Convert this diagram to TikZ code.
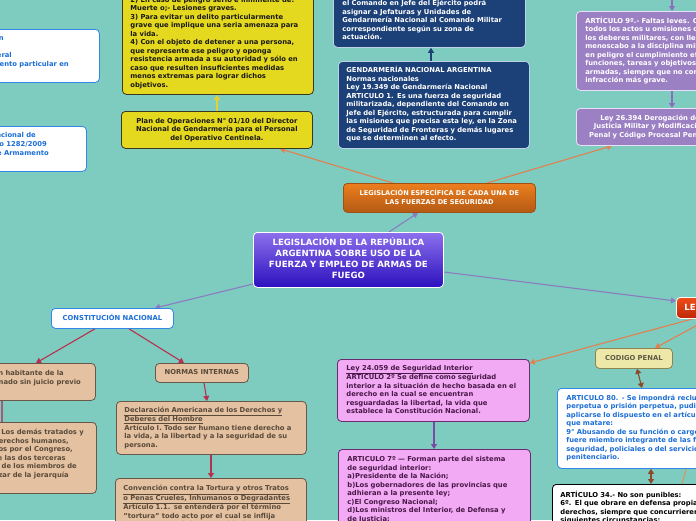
\documentclass[tikz,border=0pt]{standalone}
\usepackage{fontspec}
\setmainfont{DejaVu Sans}
\usetikzlibrary{arrows.meta}
\pgfdeclarelayer{back}
\pgfsetlayers{back,main}
\definecolor{bgc}{RGB}{126,204,192}
\definecolor{yfill}{RGB}{229,217,32}
\definecolor{ydraw}{RGB}{60,56,30}
\definecolor{ytext}{RGB}{25,25,20}
\definecolor{nfill}{RGB}{28,64,120}
\definecolor{nborder}{RGB}{190,210,230}
\definecolor{pfill}{RGB}{156,128,196}
\definecolor{pborder}{RGB}{232,224,244}
\definecolor{otop}{RGB}{236,126,30}
\definecolor{obot}{RGB}{180,90,20}
\definecolor{oborder}{RGB}{160,80,20}
\definecolor{ctop}{RGB}{140,112,236}
\definecolor{cbot}{RGB}{44,16,190}
\definecolor{wborder}{RGB}{50,135,230}
\definecolor{wtext}{RGB}{28,110,215}
\definecolor{tfill}{RGB}{227,193,161}
\definecolor{tborder}{RGB}{105,88,72}
\definecolor{ttext}{RGB}{90,74,58}
\definecolor{kfill}{RGB}{242,170,244}
\definecolor{kborder}{RGB}{106,42,112}
\definecolor{ktext}{RGB}{72,24,72}
\definecolor{gfill}{RGB}{238,232,168}
\definecolor{gborder}{RGB}{138,132,80}
\definecolor{gtext}{RGB}{94,90,68}
\definecolor{rtop}{RGB}{240,76,24}
\definecolor{rbot}{RGB}{190,40,8}
\definecolor{lor}{RGB}{226,128,80}
\definecolor{lpu}{RGB}{138,124,192}
\definecolor{lcr}{RGB}{184,48,78}
\definecolor{lma}{RGB}{165,90,120}
\definecolor{lye}{RGB}{232,208,48}
\definecolor{lnv}{RGB}{28,64,120}
\definecolor{lvi}{RGB}{138,112,188}
\definecolor{lpk}{RGB}{122,74,168}
\definecolor{lbr}{RGB}{139,74,42}
\definecolor{ltn}{RGB}{217,149,95}
\newcommand\TL[1]{\begin{tabular}{@{}l@{}}#1\end{tabular}}
\newcommand\TC[1]{\begin{tabular}{@{}c@{}}#1\end{tabular}}
\tikzset{
 boxbase/.style={rounded corners=4pt, line width=0.8pt, anchor=north west, inner xsep=8pt, inner ysep=3pt, align=left, font=\fontsize{6.8}{8.5}\selectfont\bfseries},
 ybox/.style={boxbase, draw=ydraw, fill=yfill, text=ytext},
 nbox/.style={boxbase, draw=nborder, fill=nfill, text=white},
 pbox/.style={boxbase, draw=pborder, fill=pfill, text=white},
 obox/.style={boxbase, draw=oborder, top color=otop, bottom color=obot, text=white, font=\fontsize{6.6}{9}\selectfont\bfseries},
 cbox/.style={boxbase, draw=white, top color=ctop, bottom color=cbot, text=white, font=\fontsize{8.6}{11}\selectfont\bfseries},
 wbox/.style={boxbase, draw=wborder, fill=white, text=wtext},
 tbox/.style={boxbase, draw=tborder, fill=tfill, text=ttext},
 kbox/.style={boxbase, draw=kborder, fill=kfill, text=ktext},
 gbox/.style={boxbase, draw=gborder, fill=gfill, text=gtext},
 rbox/.style={boxbase, draw=white, top color=rtop, bottom color=rbot, text=white, font=\fontsize{8.6}{11}\selectfont\bfseries},
 bbox/.style={boxbase, draw=black, fill=white, text=black},
 cutw/.style={anchor=base east, inner sep=0pt, font=\fontsize{6.8}{8.5}\selectfont\bfseries, text=wtext},
 cutt/.style={anchor=base east, inner sep=0pt, font=\fontsize{6.8}{8.5}\selectfont\bfseries, text=ttext},
 con/.style={line width=1.1pt},
 tip/.style={-{Triangle[length=5pt,width=6pt]}},
 dtip/.style={{Triangle[length=5pt,width=6pt]}-{Triangle[length=5pt,width=6pt]}},
}
\begin{document}
\begin{tikzpicture}[x=1pt,y=-1pt]
\path[use as bounding box] (0,0) rectangle (696,520);
\begin{pgfonlayer}{back}
\fill[bgc] (0,0) rectangle (696,520);
\end{pgfonlayer}

% ---- top area
\node[ybox, text width=175pt, minimum height=103pt] (ytop) at (122,-9) {\TL{2) En caso de peligro serio e inminente de:\\ Muerte o;- Lesiones graves.\\ 3) Para evitar un delito particularmente\\ grave que implique una seria amenaza para\\ la vida.\\ 4) Con el objeto de detener a una persona,\\ que represente ese peligro y oponga\\ resistencia armada a su autoridad y sólo en\\ caso que resulten insuficientes medidas\\ menos extremas para lograr dichos\\ objetivos.}};
\node[ybox, text width=175pt, minimum height=37pt, align=center] (plan) at (121,111) {\TC{Plan de Operaciones N° 01/10 del Director\\ Nacional de Gendarmería para el Personal\\ del Operativo Centinela.}};
\node[nbox, text width=174pt, inner xsep=9pt, minimum height=53pt] (navtop) at (333,-6) {\TL{el Comando en Jefe del Ejército podrá\\ asignar a Jefaturas y Unidades de\\ Gendarmería Nacional al Comando Militar\\ correspondiente según su zona de\\ actuación.}};
\node[nbox, text width=175pt, minimum height=87pt] (gend) at (338,61) {\TL{GENDARMERÍA NACIONAL ARGENTINA\\ Normas nacionales\\ Ley 19.349 de Gendarmería Nacional\\ ARTICULO 1. Es una fuerza de seguridad\\ militarizada, dependiente del Comando en\\ Jefe del Ejército, estructurada para cumplir\\ las misiones que precisa esta ley, en la Zona\\ de Seguridad de Fronteras y demás lugares\\ que se determinen al efecto.}};
\node[pbox, text width=240pt, inner xsep=9pt, minimum height=79pt] (art9) at (576,11) {\TL{ARTÍCULO 9º.- Faltas leves. Constituyen faltas leves\\ todos los actos u omisiones contrarios a\\ los deberes militares, con llevar un\\ menoscabo a la disciplina militar, o poner\\ en peligro el cumplimiento eficaz de las\\ funciones, tareas y objetivos de las fuerzas\\ armadas, siempre que no constituyan una\\ infracción más grave.}};
\node[pbox, text width=174pt, minimum height=37pt, align=center] (ley26) at (576,108) {\TC{Ley 26.394 Derogación del Código de\\ Justicia Militar y Modificación del Código\\ Penal y Código Procesal Penal de la Nación}};

% ---- left boxes (cut by the left edge)
\node[wbox, minimum width=159pt, minimum height=53pt] (boxA) at (-60,29) {};
\node[cutw] (a1) at (4,40.5) {Policía Federal Argentina - Reglamentación};
\node[cutw] (a2) at (12,57.5) {Ley Orgánica de la Policía Federal};
\node[cutw] (a3) at (69,66) {Reglamento de procedimiento particular en};
\node[wbox, minimum width=146pt, minimum height=45pt] (boxB) at (-60,126) {};
\node[cutw] (b1) at (36,137.5) {Registro Nacional de};
\node[cutw] (b2) at (47,146.5) {Decreto 1282/2009};
\node[cutw] (b3) at (49,155.5) {Reglamento de Armamento};

% ---- centre
\node[obox, text width=176pt, minimum height=29pt, align=center] (orange) at (343,183) {\TC{LEGISLACIÓN ESPECÍFICA DE CADA UNA DE\\ LAS FUERZAS DE SEGURIDAD}};
\node[cbox, text width=174pt, minimum height=55pt, align=center] (central) at (253,232) {\TC{LEGISLACIÓN DE LA REPÚBLICA\\ ARGENTINA SOBRE USO DE LA\\ FUERZA Y EMPLEO DE ARMAS DE\\ FUEGO}};
\node[rbox, text width=150pt, minimum height=21pt] (ley) at (676,297) {\TL{LEYES NACIONALES}};
\node[wbox, text width=106pt, minimum height=20pt, align=center] (const) at (51,308) {\TC{CONSTITUCIÓN NACIONAL}};

% ---- lower left
\node[tbox, minimum width=155pt, minimum height=37pt] (L1) at (-60,363) {};
\node[cutt] (l11) at (64,375.5) {Artículo 18: Ningún habitante de la};
\node[cutt] (l12) at (81,384) {Nación puede ser penado sin juicio previo};
\node[tbox, minimum width=156pt, minimum height=71pt] (L2) at (-60,422) {};
\node[cutt] (l21) at (84,434.5) {Art. 75 inc. 22: Los demás tratados y};
\node[cutt] (l22) at (69,443) {convenciones sobre derechos humanos,};
\node[cutt] (l23) at (73,451.5) {luego de ser aprobados por el Congreso,};
\node[cutt] (l24) at (66,460) {requerirán del voto de las dos terceras};
\node[cutt] (l25) at (77,468.5) {partes de la totalidad de los miembros de};
\node[cutt] (l26) at (69,477) {cada Cámara para gozar de la jerarquía};
\node[tbox, text width=77pt, minimum height=19pt, align=center] (normas) at (155,363) {\TC{NORMAS INTERNAS}};
\node[tbox, text width=174pt, minimum height=53pt] (decl) at (116,401) {\TL{\underline{Declaración Americana de los Derechos y}\\ \underline{Deberes del Hombre}\\ Artículo I. Todo ser humano tiene derecho a\\ la vida, a la libertad y a la seguridad de su\\ persona.}};
\node[tbox, text width=175pt, inner ysep=6.5pt] (conv) at (115,478) {\TL{\underline{Convención contra la Tortura y otros Tratos}\\ \underline{o Penas Crueles, Inhumanos o Degradantes}\\ Artículo 1.1. se entenderá por el término\\ "tortura" todo acto por el cual se inflija\\ a una persona dolores o sufrimientos graves,}};

% ---- lower middle / right
\node[kbox, text width=174pt, inner xsep=9pt, minimum height=62pt] (ley24) at (337,359) {\TL{\underline{Ley 24.059 de Seguridad Interior}\\ ARTICULO 2º Se define como seguridad\\ interior a la situación de hecho basada en el\\ derecho en la cual se encuentran\\ resguardadas la libertad, la vida que\\ establece la Constitución Nacional.}};
\node[kbox, text width=174pt, inner xsep=9pt, inner ysep=6.5pt] (art7) at (338,449) {\TL{ARTICULO 7º — Forman parte del sistema\\ de seguridad interior:\\ a)Presidente de la Nación;\\ b)Los gobernadores de las provincias que\\ adhieran a la presente ley;\\ c)El Congreso Nacional;\\ d)Los ministros del Interior, de Defensa y\\ de Justicia;\\ e)El Secretario de Seguridad Interior;}};
\node[gbox, text width=61pt, minimum height=20pt, align=center] (codigo) at (595,348) {\TC{CODIGO PENAL}};
\node[wbox, text width=220pt, inner xsep=9pt, minimum height=80pt] (art80) at (557,388) {\TL{ARTICULO 80. - Se impondrá reclusión\\ perpetua o prisión perpetua, pudiendo\\ aplicarse lo dispuesto en el artículo 52, al\\ que matare:\\ 9° Abusando de su función o cargo, cuando\\ fuere miembro integrante de las fuerzas de\\ seguridad, policiales o del servicio\\ penitenciario.}};
\node[bbox, text width=220pt, inner ysep=6.5pt] (art34) at (552,484) {\TL{ARTÍCULO 34.- No son punibles:\\ 6º. El que obrare en defensa propia o de sus\\ derechos, siempre que concurrieren las\\ siguientes circunstancias:\\ a) Agresión ilegítima;}};

\coordinate (topR) at (672,-6);
\coordinate (offR) at (702,412);

% ---- connectors
\begin{pgfonlayer}{back}
\draw[con, tip, lpu] (central.north -| 389,0) -- (orange.south -| 418,0);
\draw[con, tip, lpu] (central.west |- 0,284) -- (const.north -| 155,0);
\draw[con, tip, lpu] (central.east |- 0,272) -- (ley.west |- 0,301);
\draw[con, tip, lor] (orange.north -| 393,0) -- (plan.south -| 280,0);
\draw[con, tip, lor] (orange.north -| 487,0) -- (ley26.south -| 612,0);
\draw[con, tip, lye] (plan.north -| 217,0) -- (ytop.south -| 217,0);
\draw[con, tip, lnv] (gend.north -| 431,0) -- (navtop.south -| 431,0);
\draw[con, tip, lvi] (topR) -- (art9.north -| 672,0);
\draw[con, tip, lvi] (art9.south -| 672,0) -- (ley26.north -| 672,0);
\draw[con, tip, lcr] (const.south -| 95,0) -- (L1.north -| 36,0);
\draw[con, tip, lcr] (const.south -| 129,0) -- (normas.north -| 184,0);
\draw[con, lma] (L1.south -| 2,0) -- (L2.north -| 2,0);
\draw[con, tip, lcr] (normas.south -| 204,0) -- (decl.north -| 207,0);
\draw[con, tip, lcr] (decl.south -| 211,0) -- (conv.north -| 211,0);
\draw[con, tip, lor] (ley.south -| 693,0) -- (ley24.east |- 0,363);
\draw[con, tip, lor] (ley.south -| 709,0) -- (codigo.north -| 655,0);
\draw[con, tip, lpk] (ley24.south -| 434,0) -- (art7.north -| 434,0);
\draw[con, dtip, lbr] (codigo.south -| 637,0) -- (art80.north -| 642,0);
\draw[con, dtip, lbr] (art80.south -| 651,0) -- (art34.north -| 651,0);
\draw[con, ltn] (offR) -- (art34.north -| 682,0);
\end{pgfonlayer}
\end{tikzpicture}
\end{document}
